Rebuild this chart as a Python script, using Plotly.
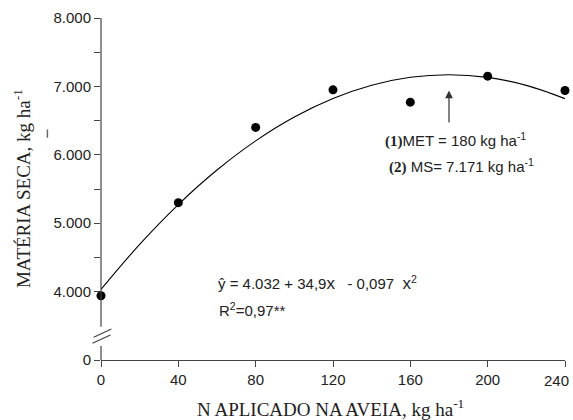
import plotly.graph_objects as go

# Observed data (N applied, kg/ha ; dry matter, kg/ha)
n_applied = [0, 40, 80, 120, 160, 200, 240]
dry_matter = [3940, 5300, 6400, 6950, 6770, 7150, 6940]

# Fitted curve
curve_x = [0, 20, 40, 60, 80, 100, 120, 140, 160, 180, 200, 220, 240]
curve_y = [4032, 4691, 5273, 5777, 6203, 6552, 6823, 7017, 7133, 7171, 7132, 7015, 6821]

x_ticks = [0, 40, 80, 120, 160, 200, 240]
x_ticktext = ["0", "40", "80", "120", "160", "200", ""]
last_x_label = "240"
y_tickvals = [3000, 4000, 5000, 6000, 7000, 8000]
y_ticktext = ["0", "4.000", "5.000", "6.000", "7.000", "8.000"]
y_minor = [4500, 5500, 6500, 7500]

met_x = 180
met_y_tip = 6940
met_y_tail = 6450

SANS = "Liberation Sans, Arial, sans-serif"
SERIF = "Liberation Serif, Times New Roman, serif"
AX = "#444444"
TXT = "#222222"

fig = go.Figure()
fig.add_trace(go.Scatter(x=curve_x, y=curve_y, mode="lines", line=dict(color="black", width=1.1, shape="spline"),
                         hoverinfo="skip", showlegend=False))
fig.add_trace(go.Scatter(x=n_applied, y=dry_matter, mode="markers", marker=dict(color="black", size=9),
                         cliponaxis=False, showlegend=False))

fig.update_layout(
    width=573, height=420,
    margin=dict(l=101, r=8, t=18, b=60),
    paper_bgcolor="white", plot_bgcolor="white",
    showlegend=False,
    font=dict(family=SANS, size=15, color=TXT),
    xaxis=dict(range=[0, 240], tickvals=x_ticks, ticktext=x_ticktext, ticks="outside", ticklen=6,
               tickcolor=AX, tickwidth=1.2,
               showline=True, linecolor=AX, linewidth=1.2, showgrid=False, zeroline=False,
               automargin=False,
               tickfont=dict(family=SANS, size=15, color=TXT)),
    yaxis=dict(range=[3000, 8000], tickvals=y_tickvals, ticktext=y_ticktext, ticks="outside", ticklen=6,
               tickcolor=AX, tickwidth=1.2, showline=False, showgrid=False, zeroline=False,
               automargin=False,
               tickfont=dict(family=SANS, size=15, color=TXT),
               minor=dict(tickmode="array", tickvals=y_minor, ticks="outside", ticklen=6, tickcolor=AX,
                          tickwidth=1.2, showgrid=False)),
)

# last x tick label, kept inside the page
fig.add_annotation(x=x_ticks[-1], y=-0.06, xref="x", yref="paper", xanchor="right", yanchor="middle",
                   xshift=6, showarrow=False, text=last_x_label, font=dict(family=SANS, size=15, color=TXT))

line_style = dict(color=AX, width=1.2)
# y-axis line drawn in two pieces with a break
fig.add_shape(type="line", xref="paper", yref="y", x0=0, x1=0, y0=3487, y1=8000, line=line_style)
fig.add_shape(type="line", xref="paper", yref="y", x0=0, x1=0, y0=3000, y1=3205, line=line_style)
fig.add_shape(type="line", xref="paper", yref="y", x0=-0.0157, x1=0.0224, y0=3332, y1=3454, line=line_style)
fig.add_shape(type="line", xref="paper", yref="y", x0=-0.0185, x1=0.0203, y0=3244, y1=3366, line=line_style)
# small stray mark at left
fig.add_shape(type="line", xref="paper", yref="y", x0=-0.1155, x1=-0.1155, y0=6250, y1=6370,
              line=dict(color="#666666", width=1.5))

# arrow
fig.add_annotation(x=met_x, y=met_y_tip, ax=met_x, ay=met_y_tail, axref="x", ayref="y", xref="x", yref="y",
                   showarrow=True, arrowhead=2, arrowsize=1.3, arrowwidth=1.2, arrowcolor="#333333", text="")

fig.add_annotation(x=145.7, y=6220, xref="x", yref="y", xanchor="left", yanchor="middle", showarrow=False,
                   text="<b><span style='font-family:Liberation Serif'>(1)</span></b>MET = 180 kg ha<sup>-1</sup>",
                   font=dict(family=SANS, size=15, color=TXT))
fig.add_annotation(x=148, y=5839, xref="x", yref="y", xanchor="left", yanchor="middle", showarrow=False,
                   text="<b><span style='font-family:Liberation Serif'>(2)</span></b> MS= 7.171 kg ha<sup>-1</sup>",
                   font=dict(family=SANS, size=15, color=TXT))
fig.add_annotation(x=59.7, y=4127, xref="x", yref="y", xanchor="left", yanchor="middle", showarrow=False,
                   text="ŷ = 4.032 + 34,9<span style='font-size:17px'>x</span>&nbsp;&nbsp; - 0,097&nbsp; "
                        "<span style='font-size:17px'>x</span><sup>2</sup>",
                   font=dict(family=SANS, size=15, color=TXT))
fig.add_annotation(x=59.8, y=3732, xref="x", yref="y", xanchor="left", yanchor="middle", showarrow=False,
                   text="R<sup>2</sup>=0,97**",
                   font=dict(family=SANS, size=15, color=TXT))

# axis titles
fig.add_annotation(x=0.494, y=-0.14, xref="paper", yref="paper", xanchor="center", yanchor="middle",
                   showarrow=False, text="N APLICADO NA AVEIA, kg ha<sup>-1</sup>",
                   font=dict(family=SERIF, size=19, color=TXT))
fig.add_annotation(x=-0.17, y=0.5, xref="paper", yref="paper", xanchor="center", yanchor="middle",
                   showarrow=False, textangle=-90, text="MATÉRIA SECA, kg ha<sup>-1</sup>",
                   font=dict(family=SERIF, size=19, color=TXT))

fig.write_html("out.html")
